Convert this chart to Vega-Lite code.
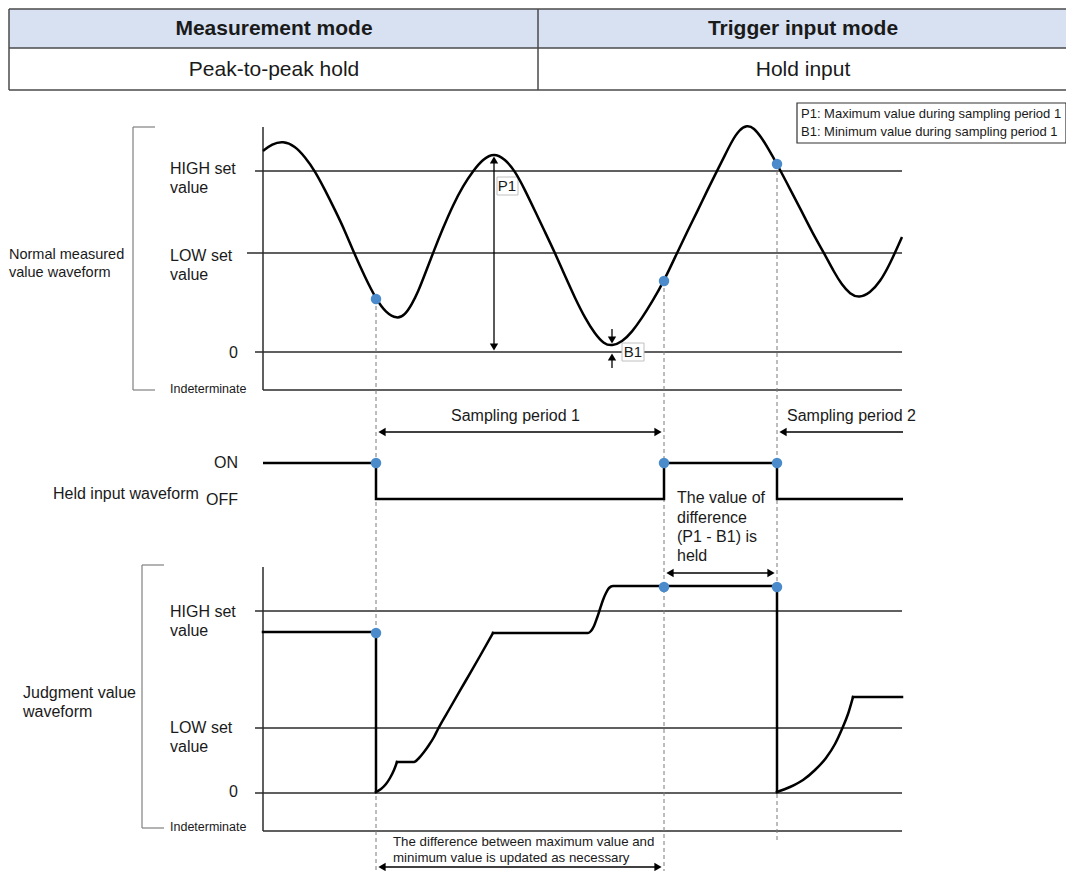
{
  "$schema": "https://vega.github.io/schema/vega-lite/v6.json",
  "width": 1066,
  "height": 871,
  "autosize": {"type": "none"},
  "padding": 0,
  "background": "white",
  "config": {"view": {"stroke": null}, "axis": {"disable": true}},
  "datasets": {
    "fill": [{"x": 9, "y": 9, "x2": 1066, "y2": 48}],
    "seg": [
      {"g": "tbl", "x": 9, "y": 9, "x2": 1066, "y2": 9},
      {"g": "tbl", "x": 9, "y": 48, "x2": 1066, "y2": 48},
      {"g": "tbl", "x": 9, "y": 90, "x2": 1066, "y2": 90},
      {"g": "tbl", "x": 9, "y": 9, "x2": 9, "y2": 90},
      {"g": "tbl", "x": 538, "y": 9, "x2": 538, "y2": 90},
      {"g": "br", "x": 133, "y": 127, "x2": 133, "y2": 390},
      {"g": "br", "x": 133, "y": 127, "x2": 155, "y2": 127},
      {"g": "br", "x": 133, "y": 390, "x2": 155, "y2": 390},
      {"g": "br", "x": 142, "y": 565, "x2": 142, "y2": 828},
      {"g": "br", "x": 142, "y": 565, "x2": 164, "y2": 565},
      {"g": "br", "x": 142, "y": 828, "x2": 164, "y2": 828},
      {"g": "ref", "x": 263, "y": 127, "x2": 263, "y2": 390},
      {"g": "ref", "x": 255, "y": 171, "x2": 902, "y2": 171},
      {"g": "ref", "x": 247, "y": 253, "x2": 902, "y2": 253},
      {"g": "ref", "x": 255, "y": 352, "x2": 902, "y2": 352},
      {"g": "ref", "x": 263, "y": 390, "x2": 902, "y2": 390},
      {"g": "ref", "x": 263, "y": 567, "x2": 263, "y2": 831},
      {"g": "ref", "x": 255, "y": 611, "x2": 902, "y2": 611},
      {"g": "ref", "x": 255, "y": 728, "x2": 902, "y2": 728},
      {"g": "ref", "x": 255, "y": 793, "x2": 902, "y2": 793},
      {"g": "ref", "x": 263, "y": 831, "x2": 902, "y2": 831},
      {"g": "dash", "x": 376, "y": 299, "x2": 376, "y2": 871},
      {"g": "dash", "x": 664, "y": 281, "x2": 664, "y2": 871},
      {"g": "dash", "x": 777, "y": 164, "x2": 777, "y2": 840},
      {"g": "arr", "x": 494, "y": 158, "x2": 494, "y2": 348},
      {"g": "arr", "x": 612, "y": 329, "x2": 612, "y2": 342},
      {"g": "arr", "x": 612, "y": 356, "x2": 612, "y2": 368},
      {"g": "arr", "x": 380, "y": 432, "x2": 660, "y2": 432},
      {"g": "arr", "x": 781, "y": 432, "x2": 903, "y2": 432},
      {"g": "arr", "x": 668, "y": 573, "x2": 773, "y2": 573},
      {"g": "arr", "x": 380, "y": 867, "x2": 660, "y2": 867}
    ],
    "heads": [
      {"x": 494, "y": 160, "d": "up"},
      {"x": 494, "y": 347, "d": "down"},
      {"x": 612, "y": 340, "d": "down"},
      {"x": 612, "y": 357, "d": "up"},
      {"x": 382, "y": 432, "d": "left"},
      {"x": 658, "y": 432, "d": "right"},
      {"x": 783, "y": 432, "d": "left"},
      {"x": 670, "y": 573, "d": "left"},
      {"x": 771, "y": 573, "d": "right"},
      {"x": 382, "y": 867, "d": "left"},
      {"x": 658, "y": 867, "d": "right"}
    ],
    "sine": [
      {"x": 263, "y": 151}, {"x": 272, "y": 144}, {"x": 283, "y": 141}, {"x": 295, "y": 146},
      {"x": 305, "y": 157}, {"x": 315, "y": 171}, {"x": 325, "y": 190}, {"x": 335, "y": 210},
      {"x": 345, "y": 231}, {"x": 354, "y": 253}, {"x": 365, "y": 277}, {"x": 376, "y": 299},
      {"x": 386, "y": 313}, {"x": 397, "y": 319}, {"x": 405, "y": 315}, {"x": 412, "y": 304},
      {"x": 418, "y": 292}, {"x": 425, "y": 274}, {"x": 433, "y": 253}, {"x": 443, "y": 228},
      {"x": 453, "y": 205}, {"x": 463, "y": 186}, {"x": 473, "y": 171}, {"x": 483, "y": 159},
      {"x": 494, "y": 153}, {"x": 505, "y": 159}, {"x": 515, "y": 171}, {"x": 525, "y": 190},
      {"x": 535, "y": 211}, {"x": 545, "y": 232}, {"x": 555, "y": 253}, {"x": 565, "y": 276},
      {"x": 575, "y": 298}, {"x": 585, "y": 318}, {"x": 595, "y": 334}, {"x": 604, "y": 344},
      {"x": 612, "y": 346}, {"x": 622, "y": 342}, {"x": 632, "y": 332}, {"x": 642, "y": 318},
      {"x": 652, "y": 302}, {"x": 664, "y": 281}, {"x": 677, "y": 253}, {"x": 687, "y": 232},
      {"x": 697, "y": 212}, {"x": 707, "y": 191}, {"x": 717, "y": 171}, {"x": 725, "y": 155},
      {"x": 732, "y": 141}, {"x": 739, "y": 130}, {"x": 747, "y": 125}, {"x": 754, "y": 128},
      {"x": 761, "y": 137}, {"x": 768, "y": 148}, {"x": 777, "y": 164}, {"x": 790, "y": 189},
      {"x": 801, "y": 210}, {"x": 812, "y": 232}, {"x": 824, "y": 253}, {"x": 834, "y": 272},
      {"x": 842, "y": 285}, {"x": 850, "y": 294}, {"x": 859, "y": 298}, {"x": 870, "y": 293},
      {"x": 880, "y": 282}, {"x": 890, "y": 264}, {"x": 902, "y": 237}
    ],
    "held": [
      {"i": 1, "x": 263, "y": 463}, {"i": 2, "x": 376, "y": 463}, {"i": 3, "x": 376, "y": 499},
      {"i": 4, "x": 664, "y": 499}, {"i": 5, "x": 664, "y": 463}, {"i": 6, "x": 777, "y": 463},
      {"i": 7, "x": 777, "y": 499}, {"i": 8, "x": 903, "y": 499}
    ],
    "judg": [
      {"s": "a", "i": 1, "x": 263, "y": 632}, {"s": "a", "i": 2, "x": 376, "y": 632},
      {"s": "b", "i": 3, "x": 376, "y": 632}, {"s": "b", "i": 4, "x": 376, "y": 792},
      {"s": "c1", "i": 5, "x": 376, "y": 792}, {"s": "c1", "i": 6, "x": 381, "y": 789},
      {"s": "c1", "i": 7, "x": 386, "y": 784}, {"s": "c1", "i": 8, "x": 390, "y": 778},
      {"s": "c1", "i": 9, "x": 394, "y": 770}, {"s": "c1", "i": 10, "x": 397, "y": 762},
      {"s": "c2", "i": 11, "x": 397, "y": 762}, {"s": "c2", "i": 12, "x": 414, "y": 762},
      {"s": "c2", "i": 13, "x": 419, "y": 758}, {"s": "c2", "i": 14, "x": 424, "y": 752},
      {"s": "c2", "i": 15, "x": 429, "y": 745}, {"s": "c2", "i": 16, "x": 434, "y": 737},
      {"s": "c2", "i": 17, "x": 438, "y": 729}, {"s": "c2", "i": 18, "x": 450, "y": 708},
      {"s": "c2", "i": 19, "x": 465, "y": 682}, {"s": "c2", "i": 20, "x": 480, "y": 656},
      {"s": "c2", "i": 21, "x": 493, "y": 633},
      {"s": "c3", "i": 22, "x": 493, "y": 633}, {"s": "c3", "i": 23, "x": 588, "y": 633},
      {"s": "c3", "i": 24, "x": 591, "y": 631}, {"s": "c3", "i": 25, "x": 594, "y": 626},
      {"s": "c3", "i": 26, "x": 597, "y": 618}, {"s": "c3", "i": 27, "x": 600, "y": 609},
      {"s": "c3", "i": 28, "x": 603, "y": 600}, {"s": "c3", "i": 29, "x": 606, "y": 593},
      {"s": "c3", "i": 30, "x": 609, "y": 588}, {"s": "c3", "i": 31, "x": 613, "y": 586},
      {"s": "c3", "i": 32, "x": 777, "y": 586},
      {"s": "d", "i": 33, "x": 777, "y": 586}, {"s": "d", "i": 34, "x": 777, "y": 792},
      {"s": "e", "i": 35, "x": 777, "y": 792}, {"s": "e", "i": 36, "x": 790, "y": 787},
      {"s": "e", "i": 37, "x": 803, "y": 780}, {"s": "e", "i": 38, "x": 815, "y": 770},
      {"s": "e", "i": 39, "x": 826, "y": 758}, {"s": "e", "i": 40, "x": 835, "y": 744},
      {"s": "e", "i": 41, "x": 842, "y": 729}, {"s": "e", "i": 42, "x": 848, "y": 714},
      {"s": "e", "i": 43, "x": 853, "y": 697},
      {"s": "f", "i": 44, "x": 853, "y": 697}, {"s": "f", "i": 45, "x": 902, "y": 697}
    ],
    "dots": [
      {"x": 376, "y": 299}, {"x": 664, "y": 281}, {"x": 777, "y": 164},
      {"x": 376, "y": 463}, {"x": 664, "y": 463}, {"x": 777, "y": 463},
      {"x": 376, "y": 633}, {"x": 664, "y": 587}, {"x": 777, "y": 587}
    ],
    "boxes": [
      {"g": "lab", "x": 497, "y": 177, "x2": 518, "y2": 195},
      {"g": "lab", "x": 622, "y": 343, "x2": 644, "y2": 361},
      {"g": "leg", "x": 797, "y": 103, "x2": 1066, "y2": 143}
    ],
    "t_head": [
      {"x": 274, "y": 29, "t": "Measurement mode"},
      {"x": 803, "y": 29, "t": "Trigger input mode"}
    ],
    "t_body": [
      {"x": 274, "y": 70, "t": "Peak-to-peak hold"},
      {"x": 803, "y": 70, "t": "Hold input"}
    ],
    "t_lab": [
      {"x": 170, "y": 169, "t": "HIGH set"},
      {"x": 170, "y": 188, "t": "value"},
      {"x": 170, "y": 256, "t": "LOW set"},
      {"x": 170, "y": 275, "t": "value"},
      {"x": 170, "y": 612, "t": "HIGH set"},
      {"x": 170, "y": 631, "t": "value"},
      {"x": 170, "y": 728, "t": "LOW set"},
      {"x": 170, "y": 747, "t": "value"},
      {"x": 53, "y": 494, "t": "Held input waveform"},
      {"x": 23, "y": 693, "t": "Judgment value"},
      {"x": 23, "y": 712, "t": "waveform"},
      {"x": 451, "y": 416, "t": "Sampling period 1"},
      {"x": 787, "y": 416, "t": "Sampling period 2"},
      {"x": 677, "y": 498, "t": "The value of"},
      {"x": 677, "y": 518, "t": "difference"},
      {"x": 677, "y": 537, "t": "(P1 - B1) is"},
      {"x": 677, "y": 556, "t": "held"}
    ],
    "t_side": [
      {"x": 9, "y": 255, "t": "Normal measured"},
      {"x": 9, "y": 273, "t": "value waveform"}
    ],
    "t_right": [
      {"x": 238, "y": 353, "t": "0"},
      {"x": 238, "y": 463, "t": "ON"},
      {"x": 238, "y": 500, "t": "OFF"},
      {"x": 238, "y": 792, "t": "0"}
    ],
    "t_small": [
      {"x": 170, "y": 389, "t": "Indeterminate"},
      {"x": 170, "y": 827, "t": "Indeterminate"}
    ],
    "t_note": [
      {"x": 393, "y": 842, "t": "The difference between maximum value and"},
      {"x": 393, "y": 858, "t": "minimum value is updated as necessary"}
    ],
    "t_leg": [
      {"x": 801, "y": 114, "t": "P1: Maximum value during sampling period 1"},
      {"x": 801, "y": 132, "t": "B1: Minimum value during sampling period 1"}
    ],
    "t_pb": [
      {"x": 507, "y": 186, "t": "P1"},
      {"x": 633, "y": 352, "t": "B1"}
    ]
  },
  "encoding": {
    "x": {"field": "x", "type": "quantitative", "scale": {"domain": [0, 1066], "nice": false, "zero": false}},
    "y": {"field": "y", "type": "quantitative", "scale": {"domain": [0, 871], "reverse": true, "nice": false, "zero": false}}
  },
  "layer": [
    {"data": {"name": "fill"}, "mark": {"type": "rect", "color": "#d7e1f1"},
     "encoding": {"x2": {"field": "x2"}, "y2": {"field": "y2"}}},
    {"data": {"name": "seg"}, "transform": [{"filter": "datum.g === 'tbl'"}],
     "mark": {"type": "rule", "color": "#4a4a4a", "strokeWidth": 1.5},
     "encoding": {"x2": {"field": "x2"}, "y2": {"field": "y2"}}},
    {"data": {"name": "seg"}, "transform": [{"filter": "datum.g === 'br'"}],
     "mark": {"type": "rule", "color": "#808080", "strokeWidth": 1.2},
     "encoding": {"x2": {"field": "x2"}, "y2": {"field": "y2"}}},
    {"data": {"name": "seg"}, "transform": [{"filter": "datum.g === 'ref'"}],
     "mark": {"type": "rule", "color": "#2b2b2b", "strokeWidth": 1.5},
     "encoding": {"x2": {"field": "x2"}, "y2": {"field": "y2"}}},
    {"data": {"name": "seg"}, "transform": [{"filter": "datum.g === 'dash'"}],
     "mark": {"type": "rule", "color": "#7a7a7a", "strokeWidth": 1, "strokeDash": [4, 3]},
     "encoding": {"x2": {"field": "x2"}, "y2": {"field": "y2"}}},
    {"data": {"name": "boxes"}, "transform": [{"filter": "datum.g === 'lab'"}],
     "mark": {"type": "rect", "fill": "white", "stroke": "#c0c0c0", "strokeWidth": 1},
     "encoding": {"x2": {"field": "x2"}, "y2": {"field": "y2"}}},
    {"data": {"name": "boxes"}, "transform": [{"filter": "datum.g === 'leg'"}],
     "mark": {"type": "rect", "fill": "white", "stroke": "#333333", "strokeWidth": 1.2},
     "encoding": {"x2": {"field": "x2"}, "y2": {"field": "y2"}}},
    {"data": {"name": "sine"},
     "mark": {"type": "line", "color": "black", "strokeWidth": 2.5, "interpolate": "basis"},
     "encoding": {}},
    {"data": {"name": "held"},
     "mark": {"type": "line", "color": "black", "strokeWidth": 2.5},
     "encoding": {"order": {"field": "i", "type": "quantitative"}}},
    {"data": {"name": "judg"},
     "mark": {"type": "line", "color": "black", "strokeWidth": 2.5, "interpolate": "monotone", "strokeCap": "square"},
     "encoding": {"detail": {"field": "s", "type": "nominal"}, "order": {"field": "i", "type": "quantitative"}}},
    {"data": {"name": "seg"}, "transform": [{"filter": "datum.g === 'arr'"}],
     "mark": {"type": "rule", "color": "black", "strokeWidth": 1.3},
     "encoding": {"x2": {"field": "x2"}, "y2": {"field": "y2"}}},
    {"data": {"name": "heads"},
     "mark": {"type": "point", "filled": true, "color": "black", "size": 70, "opacity": 1},
     "encoding": {"shape": {"field": "d", "type": "nominal", "legend": null,
       "scale": {"domain": ["up", "down", "left", "right"], "range": ["triangle-up", "triangle-down", "triangle-left", "triangle-right"]}}}},
    {"data": {"name": "dots"},
     "mark": {"type": "circle", "color": "#4b8bcb", "size": 110, "opacity": 1},
     "encoding": {}},
    {"data": {"name": "t_head"},
     "mark": {"type": "text", "font": "Liberation Sans", "fontWeight": "bold", "fontSize": 21, "align": "center", "baseline": "middle", "color": "#1a1a1a"},
     "encoding": {"text": {"field": "t"}}},
    {"data": {"name": "t_body"},
     "mark": {"type": "text", "font": "Liberation Sans", "fontSize": 21, "align": "center", "baseline": "middle", "color": "#1a1a1a"},
     "encoding": {"text": {"field": "t"}}},
    {"data": {"name": "t_lab"},
     "mark": {"type": "text", "font": "Liberation Sans", "fontSize": 16, "align": "left", "baseline": "middle", "color": "#1a1a1a"},
     "encoding": {"text": {"field": "t"}}},
    {"data": {"name": "t_side"},
     "mark": {"type": "text", "font": "Liberation Sans", "fontSize": 14.5, "align": "left", "baseline": "middle", "color": "#1a1a1a"},
     "encoding": {"text": {"field": "t"}}},
    {"data": {"name": "t_right"},
     "mark": {"type": "text", "font": "Liberation Sans", "fontSize": 16, "align": "right", "baseline": "middle", "color": "#1a1a1a"},
     "encoding": {"text": {"field": "t"}}},
    {"data": {"name": "t_small"},
     "mark": {"type": "text", "font": "Liberation Sans", "fontSize": 12.5, "align": "left", "baseline": "middle", "color": "#1a1a1a"},
     "encoding": {"text": {"field": "t"}}},
    {"data": {"name": "t_note"},
     "mark": {"type": "text", "font": "Liberation Sans", "fontSize": 13.3, "align": "left", "baseline": "middle", "color": "#1a1a1a"},
     "encoding": {"text": {"field": "t"}}},
    {"data": {"name": "t_leg"},
     "mark": {"type": "text", "font": "Liberation Sans", "fontSize": 13, "align": "left", "baseline": "middle", "color": "#1a1a1a"},
     "encoding": {"text": {"field": "t"}}},
    {"data": {"name": "t_pb"},
     "mark": {"type": "text", "font": "Liberation Sans", "fontSize": 15, "align": "center", "baseline": "middle", "color": "#1a1a1a"},
     "encoding": {"text": {"field": "t"}}}
  ]
}
